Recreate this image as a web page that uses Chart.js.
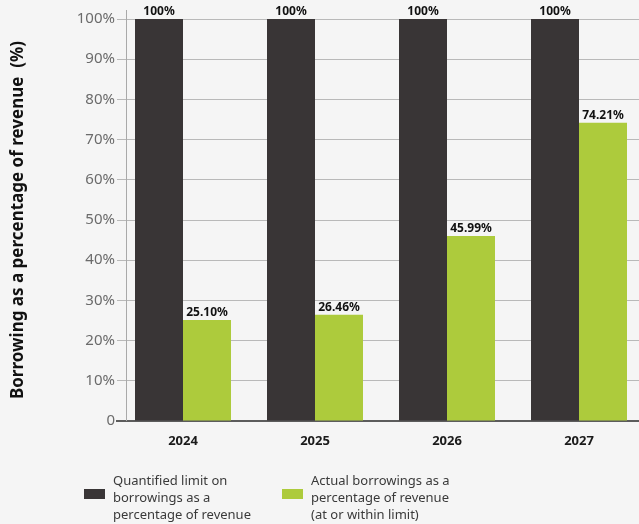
<!DOCTYPE html>
<html>
<head>
<meta charset="utf-8">
<script src="https://cdn.jsdelivr.net/npm/chart.js@4.4.1/dist/chart.umd.min.js"></script>
<style>
  html, body { margin: 0; padding: 0; background: #f5f5f5; overflow: hidden; }
  #wrap { position: relative; width: 639px; height: 524px; overflow: hidden; }
  #chart { position: absolute; left: 0; top: 0; }
  .legend-item { position: absolute; top: 472px; font-family: "Noto Sans", sans-serif; font-size: 13px;
                 line-height: 17px; color: #3a3a3a; }
  .legend-box { position: absolute; width: 21px; height: 10px; top: 17px; }
  .legend-text { position: absolute; left: 29px; top: 0; white-space: pre; }
</style>
</head>
<body>
<div id="wrap">
  <canvas id="chart" width="645" height="524"></canvas>
</div>
<script>
// Fiscal years on the x axis
const years = ['2024', '2025', '2026', '2027'];
// Quantified limit on borrowings (% of revenue)
const limitPct = [100, 100, 100, 100];
// Actual borrowings (% of revenue)
const actualPct = [25.10, 26.46, 45.99, 74.21];
// Y axis tick values
const yTicks = [0, 10, 20, 30, 40, 50, 60, 70, 80, 90, 100];

const seriesNames = [
  'Quantified limit on\nborrowings as a\npercentage of revenue',
  'Actual borrowings as a\npercentage of revenue\n(at or within limit)'
];
const DARK = '#393536';
const GREEN = '#adcb3c';
const FONT = '"Noto Sans", sans-serif';

// Vertical axis rule drawn a little inside the grid start, rising above the top line
const axisRule = {
  id: 'axisRule',
  beforeDatasetsDraw(chart) {
    const { ctx, chartArea } = chart;
    const x = chartArea.left + 9.5;
    ctx.save();
    ctx.strokeStyle = '#a9a9a9';
    ctx.lineWidth = 1;
    ctx.beginPath();
    ctx.moveTo(x, chartArea.top - 9);
    ctx.lineTo(x, chartArea.bottom);
    ctx.stroke();
    ctx.restore();
  }
};

// Value labels above each bar
const valueLabels = {
  id: 'valueLabels',
  afterDatasetsDraw(chart) {
    const { ctx } = chart;
    ctx.save();
    ctx.font = 'bold 12px ' + FONT;
    ctx.fillStyle = '#111';
    ctx.textAlign = 'center';
    ctx.textBaseline = 'alphabetic';
    chart.data.datasets.forEach((ds, di) => {
      chart.getDatasetMeta(di).data.forEach((bar, i) => {
        const v = ds.data[i];
        const txt = v === 100 ? '100%' : v.toFixed(2) + '%';
        ctx.fillText(txt, bar.x, bar.y - 4);
      });
    });
    ctx.restore();
  }
};

const chart = new Chart(document.getElementById('chart'), {
  type: 'bar',
  data: {
    labels: years,
    datasets: [
      { label: seriesNames[0], data: limitPct, backgroundColor: DARK,
        barPercentage: 1.0, categoryPercentage: 96 / 132 },
      { label: seriesNames[1], data: actualPct, backgroundColor: GREEN,
        barPercentage: 1.0, categoryPercentage: 96 / 132 }
    ]
  },
  options: {
    responsive: false,
    animation: false,
    devicePixelRatio: 1,
    layout: { padding: { top: 19, right: 0, bottom: 0, left: 0 } },
    plugins: {
      legend: { display: false },
      tooltip: { enabled: false },
      title: { display: false }
    },
    scales: {
      x: {
        grid: { display: false },
        border: { display: true, color: '#5c5c5c', width: 2 },
        ticks: { font: { family: FONT, size: 13, weight: 'bold' }, color: '#1a1a1a', padding: 4 },
        afterFit(scale) { scale.height = 103; }
      },
      y: {
        min: 0,
        max: 100,
        afterBuildTicks(scale) { scale.ticks = yTicks.map(v => ({ value: v })); },
        grid: { color: '#b9b9b9', lineWidth: 1, drawTicks: false },
        border: { display: false },
        ticks: {
          font: { family: FONT, size: 15 },
          color: '#6b6b6b',
          padding: 2,
          callback: v => (v === 0 ? '0' : v + '%')
        },
        title: {
          display: true,
          text: 'Borrowing as a percentage of revenue  (%)',
          font: { family: FONT, size: 17, weight: 'bold' },
          color: '#111',
          padding: { top: 8, bottom: 0 }
        },
        afterFit(scale) { scale.width = 117; }
      }
    }
  },
  plugins: [axisRule, valueLabels]
});

// Legend built from the dataset names and colours
const wrap = document.getElementById('wrap');
const legendX = [84, 282];
chart.data.datasets.forEach((ds, i) => {
  const item = document.createElement('div');
  item.className = 'legend-item';
  item.style.left = legendX[i] + 'px';
  const box = document.createElement('div');
  box.className = 'legend-box';
  box.style.background = ds.backgroundColor;
  const text = document.createElement('div');
  text.className = 'legend-text';
  text.textContent = ds.label;
  item.appendChild(box);
  item.appendChild(text);
  wrap.appendChild(item);
});
</script>
</body>
</html>
